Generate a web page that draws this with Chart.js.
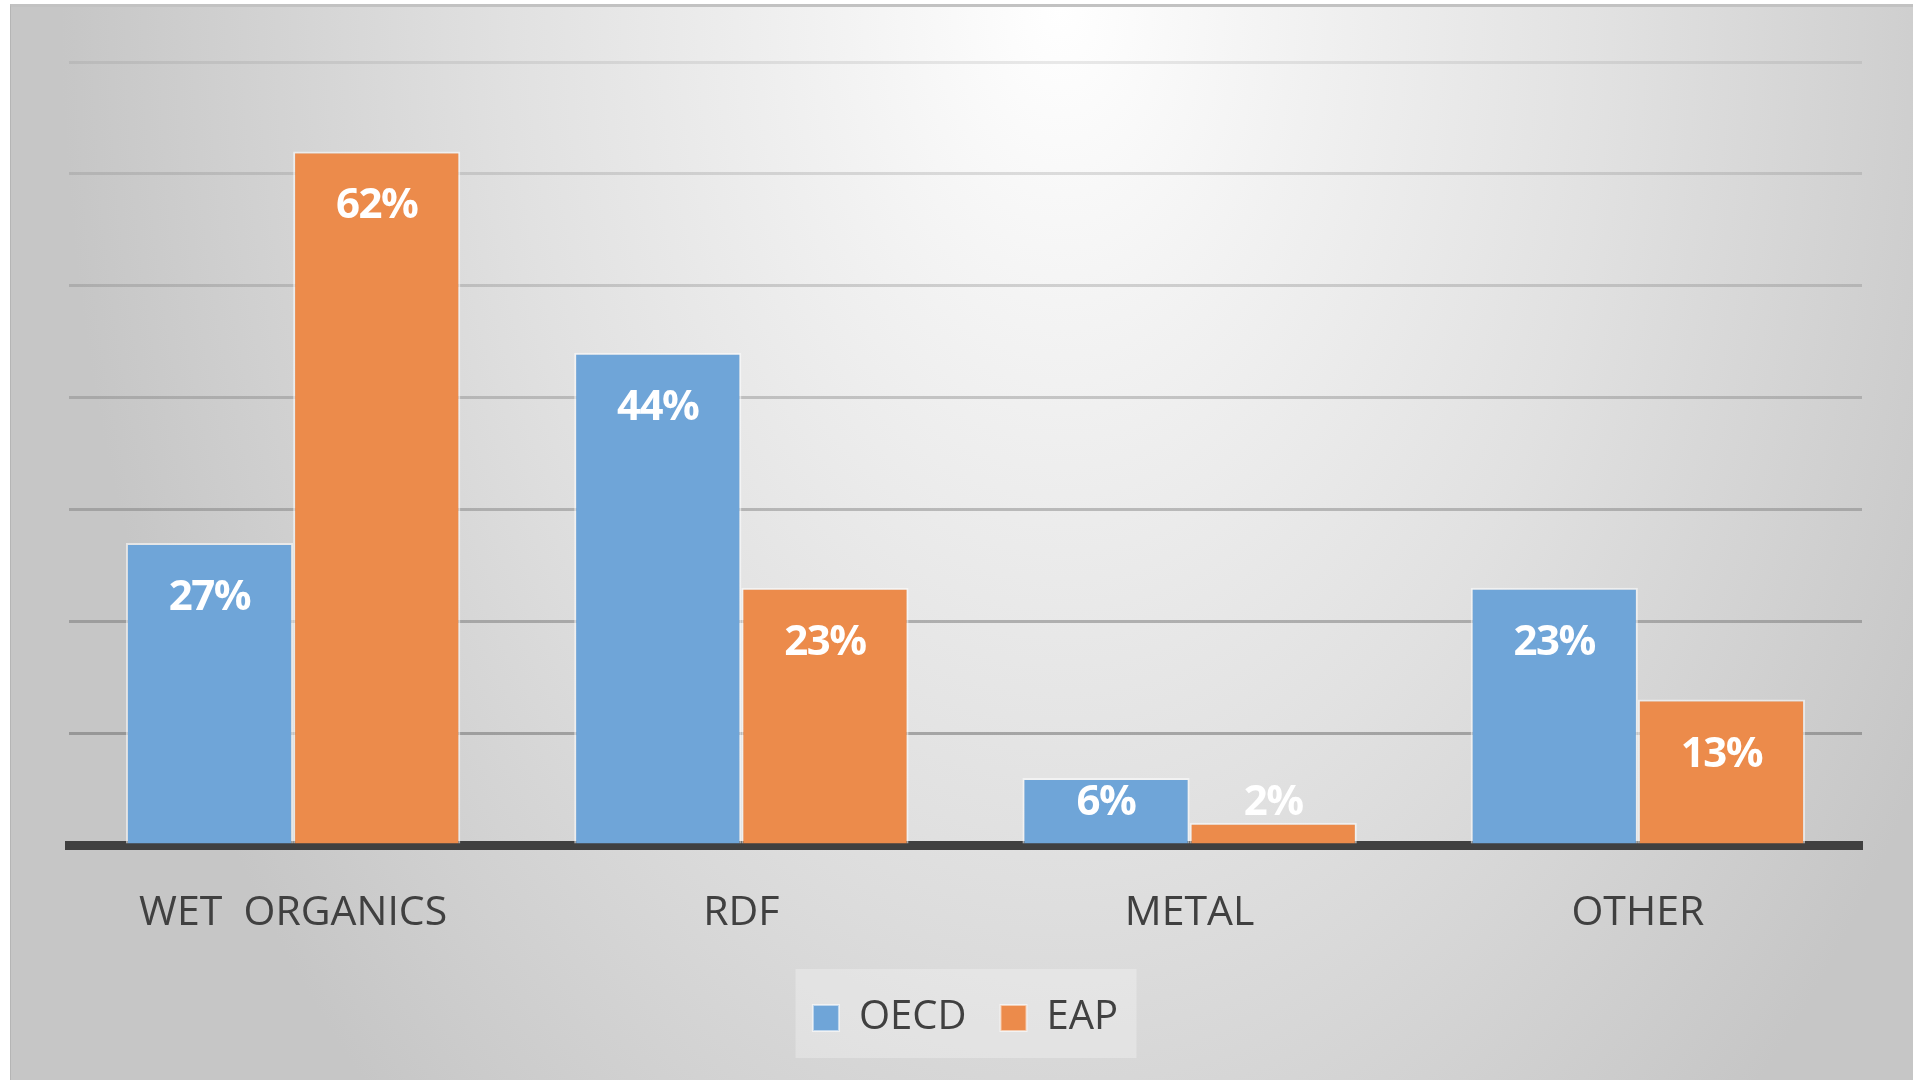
<!DOCTYPE html>
<html>
<head>
<meta charset="utf-8">
<script src="https://cdn.jsdelivr.net/npm/chart.js@4.4.1/dist/chart.umd.min.js"></script>
<style>
  html, body { margin: 0; padding: 0; background: #ffffff; }
  #frame {
    position: absolute; left: 10px; top: 4px; width: 1903px; height: 1076px;
    border-top: 3px solid #c2c2c2; border-left: 1px solid #b5b5b5;
    box-sizing: border-box;
    background: radial-gradient(1000px 1500px at 1050px 0px, #ffffff 0%, #f1f1f1 25%, #e1e1e1 55%, #c6c6c6 100%);
  }
  #wrap { position: absolute; left: 0; top: 0; width: 1913px; height: 1081px; }
</style>
</head>
<body>
<div id="frame"></div>
<div id="wrap"><canvas id="myChart" width="1913" height="1081"></canvas></div>
<script>
// categorias e valores (%)
const categories = ['WET  ORGANICS', 'RDF', 'METAL', 'OTHER'];
const oecdValues = [27, 44, 6, 23];
const eapValues = [62, 23, 2, 13];
const seriesNames = ['OECD', 'EAP'];

const blue = '#6fa5d8';
const orange = '#ec8b4b';

// rótulos brancos dentro da barra
const barLabels = {
    id: 'barLabels',
    afterDatasetsDraw(chart) {
        const ctx = chart.ctx;
        ctx.save();
        ctx.fillStyle = '#ffffff';
        ctx.font = 'bold 42px "Open Sans"';
        ctx.letterSpacing = '-1.5px';
        ctx.textAlign = 'center';
        ctx.textBaseline = 'middle';
        chart.data.datasets.forEach((ds, i) => {
            chart.getDatasetMeta(i).data.forEach((bar, j) => {
                const y = Math.min(bar.y + 55, bar.base - 40);
                ctx.fillText(ds.data[j] + '%', bar.x, y);
            });
        });
        ctx.restore();
    }
};

// caixa clara atrás da legenda
const legendBox = {
    id: 'legendBox',
    beforeDraw(chart) {
        const boxes = chart.legend.legendHitBoxes;
        if (!boxes || !boxes.length) return;
        const area = chart.chartArea;
        const cx = (area.left + area.right) / 2;
        const cy = boxes[0].top + boxes[0].height / 2;
        const ctx = chart.ctx;
        ctx.save();
        ctx.fillStyle = 'rgba(255,255,255,0.28)';
        ctx.fillRect(cx - 170, cy - 49, 341, 89);
        ctx.restore();
    }
};

const ctx = document.getElementById('myChart').getContext('2d');

const myChart = new Chart(ctx, {
    type: 'bar',
    data: {
        labels: categories,
        datasets: [
            {
                label: seriesNames[0],
                data: oecdValues,
                backgroundColor: blue,
                borderColor: 'rgba(255,255,255,0.55)',
                borderWidth: 2
            },
            {
                label: seriesNames[1],
                data: eapValues,
                backgroundColor: orange,
                borderColor: 'rgba(255,255,255,0.55)',
                borderWidth: 2
            }
        ]
    },
    options: {
        responsive: false,
        animation: false,
        devicePixelRatio: 1,
        layout: { padding: { left: 69, right: 51, top: 62, bottom: 33 } },
        datasets: { bar: { categoryPercentage: 0.746, barPercentage: 1 } },
        plugins: {
            tooltip: { enabled: false },
            legend: {
                position: 'bottom',
                labels: {
                    boxWidth: 26,
                    boxHeight: 26,
                    padding: 34,
                    color: '#404040',
                    font: { family: '"Open Sans"', size: 40 }
                }
            }
        },
        scales: {
            x: {
                z: 1,
                grid: { display: false },
                border: { display: true, color: '#404040', width: 9 },
                ticks: {
                    padding: 36,
                    color: '#404040',
                    font: { family: '"Open Sans"', size: 41 }
                },
                afterFit: (scale) => { scale.height = 119; }
            },
            y: {
                min: 0,
                max: 70,
                ticks: { display: false, stepSize: 10 },
                border: { display: false },
                grid: {
                    lineWidth: 3,
                    drawTicks: false,
                    color: (c) => c.index === 0 ? 'rgba(0,0,0,0)' : `rgba(110,110,110,${0.6 - c.index * 0.065})`
                }
            }
        }
    },
    plugins: [barLabels, legendBox]
});
</script>
</body>
</html>
